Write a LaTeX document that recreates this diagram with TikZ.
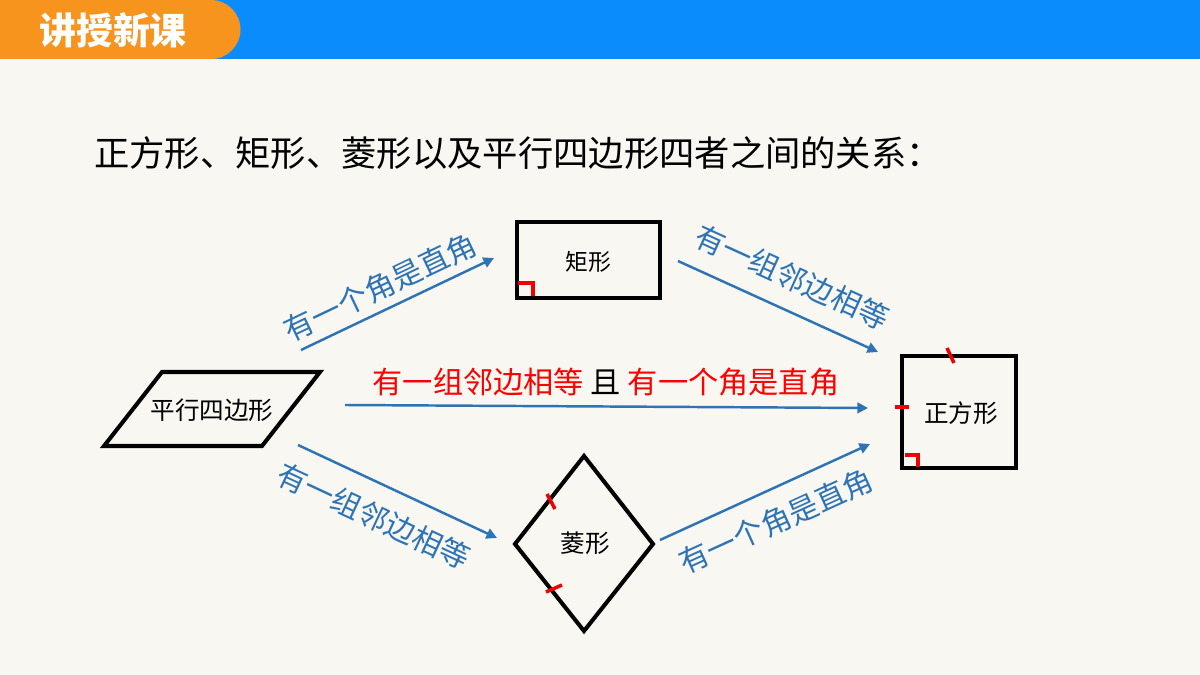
\documentclass[tikz,border=0pt]{standalone}
\usepackage{fontspec}
\setmainfont{Noto Sans CJK SC}
\newfontfamily\cjk{Noto Sans CJK SC}
\usetikzlibrary{arrows.meta}
\definecolor{bg}{HTML}{F8F7F2}
\definecolor{hdrblue}{HTML}{0A8CFC}
\definecolor{hdrorange}{HTML}{F7941D}
\definecolor{arrowblue}{HTML}{2E74B5}
\definecolor{markred}{HTML}{F00000}
\tikzset{
  shapeline/.style={line width=2.3pt, black, line join=miter},
  redmark/.style={line width=2pt, markred},
  relarrow/.style={line width=1.4pt, arrowblue, -{Triangle[length=6pt,width=6pt]}},
  shapetext/.style={font=\cjk\fontsize{14}{14}\selectfont, text=black},
  rellabel/.style={font=\cjk\fontsize{17}{17}\selectfont, text=arrowblue},
}
\begin{document}
\begin{tikzpicture}[x=0.02cm,y=-0.02cm]
\fill[bg] (0,0) rectangle (1200,675);
\useasboundingbox (0,0) rectangle (1200,675);
% header
\fill[hdrblue] (0,0) rectangle (1200,59);
\fill[hdrorange] (0,0) -- (211,0) arc[start angle=-90, end angle=90, radius=29.5] -- (0,59) -- cycle;
\node[text=white, font=\cjk\bfseries\fontsize{21}{21}\selectfont] (hdr) at (113,30) {讲授新课};
% title
\node[anchor=west, font=\cjk\fontsize{20.1}{21}\selectfont, inner sep=0pt] (title) at (94,153) {正方形、矩形、菱形以及平行四边形四者之间的关系：};
% rectangle
\draw[shapeline] (517,222) rectangle (660,298);
\node[shapetext, font=\cjk\fontsize{13}{13}\selectfont] (rect) at (588,262) {矩形};
\draw[redmark] (518,283) -- (533,283) -- (533,296);
% square
\draw[shapeline] (902,356) rectangle (1016,468);
\node[shapetext] (square) at (961,413) {正方形};
\draw[redmark] (947,348) -- (954,363);
\draw[redmark] (895,407) -- (909,407);
\draw[redmark] (905,455) -- (918,455) -- (918,467);
% rhombus
\draw[shapeline] (584,456) -- (653,544) -- (584,631) -- (515,544) -- cycle;
\node[shapetext] (rhombus) at (585,543) {菱形};
\draw[redmark] (547,494) -- (555,509);
\draw[redmark] (546,592) -- (562,585);
% parallelogram
\draw[shapeline] (162,372) -- (320,372) -- (262,446) -- (104,446) -- cycle;
\node[shapetext] (para) at (212,410) {平行四边形};
% arrow end points
\coordinate (a1s) at (301,350); \coordinate (a1e) at (494,258);
\coordinate (a2s) at (678,261); \coordinate (a2e) at (878,352);
\coordinate (a3s) at (345,405); \coordinate (a3e) at (868,408);
\coordinate (a4s) at (298,445); \coordinate (a4e) at (497,538);
\coordinate (a5s) at (660,540); \coordinate (a5e) at (870,444);
\draw[relarrow] (a1s) -- (a1e);
\draw[relarrow] (a2s) -- (a2e);
\draw[relarrow] (a3s) -- (a3e);
\draw[relarrow] (a4s) -- (a4e);
\draw[relarrow] (a5s) -- (a5e);
% labels
\node[rellabel, rotate=25.5] (l1) at (380,287) {有一个角是直角};
\node[rellabel, rotate=-24.5] (l2) at (792,277) {有一组邻边相等};
\node[rellabel, rotate=-25] (l3) at (374,516) {有一组邻边相等};
\node[rellabel, rotate=24.5] (l4) at (776,521) {有一个角是直角};
\node[font=\cjk\fontsize{17.2}{18}\selectfont, text=black] (mid) at (606,382) {\textcolor{red}{有一组邻边相等}\ 且\ \textcolor{red}{有一个角是直角}};
\end{tikzpicture}
\end{document}
